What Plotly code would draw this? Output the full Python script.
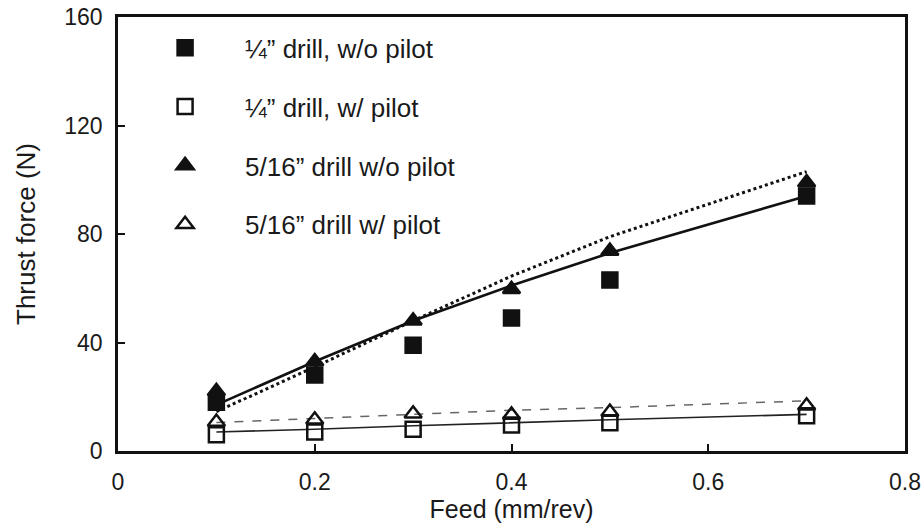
import plotly.graph_objects as go

# Feed rates (mm/rev)
feed = [0.1, 0.2, 0.3, 0.4, 0.5, 0.7]

# Measured thrust force (N)
quarter_no_pilot = [18, 28, 39, 49, 63, 94]
quarter_pilot = [6, 7, 8, 9.6, 10.4, 13]
fivesixteenth_no_pilot = [22, 33, 48, 59.6, 73.7, 99]
fivesixteenth_pilot = [10.7, 11.5, 13.7, 13.3, 14.4, 16.7]

# Fitted curves evaluated at the feed rates
fit_no_pilot_solid = [17, 33, 48, 61, 73, 94]
fit_no_pilot_dotted = [14.5, 31, 48, 64.5, 79, 103]
fit_pilot_upper = [10.5, 12, 13.5, 15, 16, 18.5]
fit_pilot_lower = [7, 8, 9.3, 10.5, 11.5, 13.5]

labels = [
    "\u00bc\u201d drill, w/o pilot",
    "\u00bc\u201d drill, w/ pilot",
    "5/16\u201d drill w/o pilot",
    "5/16\u201d drill w/ pilot",
]

FONT = "Arial, Liberation Sans, sans-serif"
INK = "#1a1a1a"

fig = go.Figure()

# fitted curves
fig.add_trace(go.Scatter(x=feed, y=fit_pilot_upper, mode="lines", showlegend=False,
                         line=dict(color="#666666", width=1.5, dash="dash")))
fig.add_trace(go.Scatter(x=feed, y=fit_pilot_lower, mode="lines", showlegend=False,
                         line=dict(color="#222222", width=1.6)))
fig.add_trace(go.Scatter(x=feed, y=fit_no_pilot_dotted, mode="lines", showlegend=False,
                         line=dict(color="#111111", width=3, dash="dot")))
fig.add_trace(go.Scatter(x=feed, y=fit_no_pilot_solid, mode="lines", showlegend=False,
                         line=dict(color="#111111", width=2.6)))

# measurements
series = [
    (quarter_no_pilot, "square", "#111111"),
    (quarter_pilot, "square-open", "#111111"),
    (fivesixteenth_no_pilot, "triangle-up", "#111111"),
    (fivesixteenth_pilot, "triangle-up-open", "#111111"),
]
for i, ((vals, sym, col), name) in enumerate(zip(series, labels)):
    fig.add_trace(go.Scatter(
        x=feed, y=vals, mode="markers", name=name, legendgroup=f"g{i}",
        marker=dict(symbol=sym, size=15, color=col, line=dict(width=2.5, color=col)),
    ))

axis_common = dict(
    showline=True, linecolor="#111111", linewidth=2.5, mirror=True,
    ticks="inside", ticklen=7, tickwidth=2, tickcolor="#111111",
    showgrid=False, zeroline=False, automargin=False,
    tickfont=dict(family=FONT, size=23, color=INK),
)

fig.update_xaxes(range=[0, 0.8], tickvals=[0, 0.2, 0.4, 0.6, 0.8],
                 ticktext=["0", "0.2", "0.4", "0.6", "0.8"],
                 ticklabelstandoff=9,
                 title=dict(text="Feed (mm/rev)", font=dict(family=FONT, size=25, color=INK),
                            standoff=7),
                 **axis_common)
fig.update_yaxes(range=[0, 160], tickvals=[0, 40, 80, 120, 160],
                 ticklabelstandoff=8,
                 title=dict(text="Thrust force (N)", font=dict(family=FONT, size=26, color=INK),
                            standoff=22),
                 **axis_common)

fig.update_layout(
    width=921, height=526,
    margin=dict(l=118, r=16, t=17, b=75),
    plot_bgcolor="white", paper_bgcolor="white",
    showlegend=True,
    legend=dict(x=0.009, y=0.983, xanchor="left", yanchor="top",
                bgcolor="rgba(0,0,0,0)", borderwidth=0,
                itemwidth=110, tracegroupgap=22, traceorder="grouped",
                font=dict(family=FONT, size=26, color=INK)),
)

fig.write_html("out.html")
